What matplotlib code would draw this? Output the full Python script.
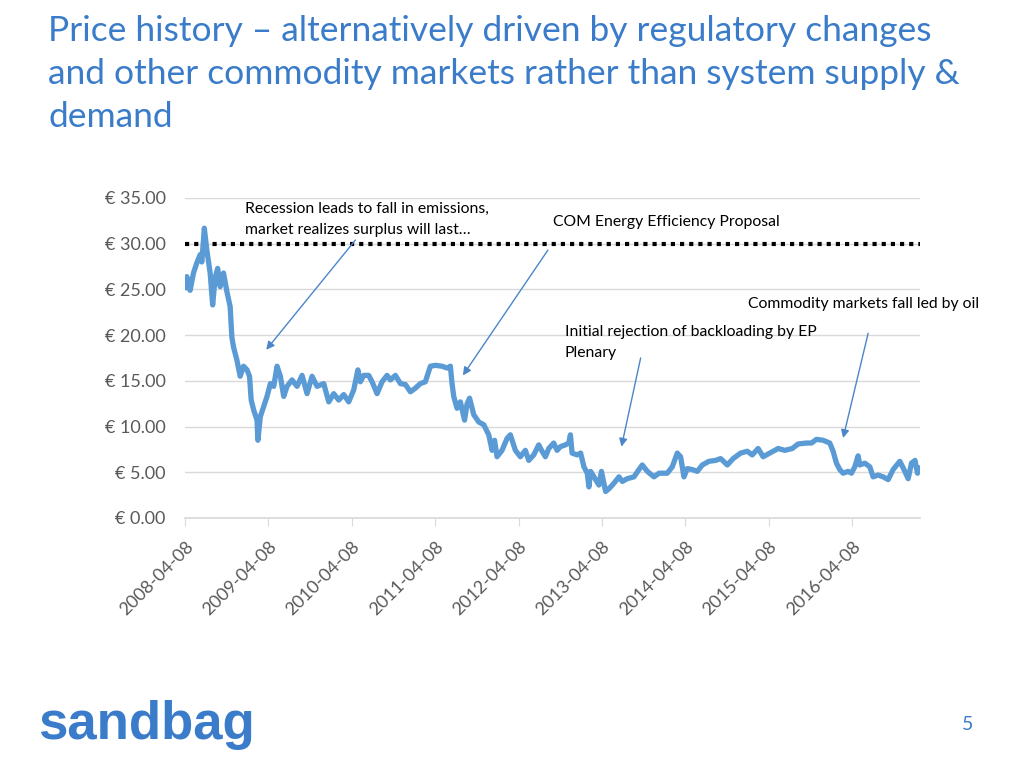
#!/usr/bin/env python3
import pandas as pd
import matplotlib.pyplot as plt

# EUA price (decimal year, euro)
years = [
    2008.27, 2008.29, 2008.33, 2008.37, 2008.41, 2008.45, 2008.47, 2008.50, 2008.53, 2008.57,
    2008.60, 2008.63, 2008.66, 2008.69, 2008.73, 2008.77, 2008.81, 2008.83, 2008.85, 2008.89,
    2008.93, 2008.97, 2009.01, 2009.04, 2009.06, 2009.09, 2009.13, 2009.14, 2009.17, 2009.21,
    2009.25, 2009.29, 2009.33, 2009.37, 2009.41, 2009.45, 2009.49, 2009.55, 2009.61, 2009.67,
    2009.73, 2009.79, 2009.85, 2009.93, 2009.99, 2010.05, 2010.11, 2010.17, 2010.23, 2010.29,
    2010.34, 2010.37, 2010.41, 2010.47, 2010.51, 2010.57, 2010.63, 2010.69, 2010.73, 2010.79,
    2010.85, 2010.91, 2010.97, 2011.03, 2011.09, 2011.15, 2011.21, 2011.27, 2011.35, 2011.41,
    2011.45, 2011.47, 2011.49, 2011.53, 2011.57, 2011.62, 2011.65, 2011.68, 2011.73, 2011.79,
    2011.85, 2011.91, 2011.95, 2011.98, 2012.01, 2012.07, 2012.13, 2012.17, 2012.23, 2012.29,
    2012.35, 2012.39, 2012.45, 2012.51, 2012.55, 2012.59, 2012.63, 2012.69, 2012.73, 2012.77,
    2012.83, 2012.87, 2012.89, 2012.91, 2012.97, 2013.01, 2013.05, 2013.09, 2013.11, 2013.13,
    2013.19, 2013.23, 2013.26, 2013.31, 2013.35, 2013.41, 2013.47, 2013.51, 2013.57, 2013.65,
    2013.71, 2013.75, 2013.81, 2013.89, 2013.95, 2014.05, 2014.11, 2014.17, 2014.21, 2014.25,
    2014.29, 2014.35, 2014.41, 2014.47, 2014.55, 2014.63, 2014.69, 2014.77, 2014.84, 2014.93,
    2015.01, 2015.07, 2015.14, 2015.20, 2015.28, 2015.38, 2015.46, 2015.55, 2015.62, 2015.72,
    2015.78, 2015.84, 2015.92, 2016.00, 2016.04, 2016.08, 2016.12, 2016.16, 2016.22, 2016.26,
    2016.30, 2016.34, 2016.36, 2016.42, 2016.48, 2016.52, 2016.58, 2016.64, 2016.70, 2016.76,
    2016.84, 2016.89, 2016.94, 2016.98, 2017.02, 2017.05, 2017.08,
]
prices = [
    25.2, 26.4, 24.9, 26.8, 27.9, 28.8, 28.0, 31.7, 29.3, 26.8,
    23.3, 26.3, 27.3, 25.3, 26.8, 24.8, 23.1, 19.8, 18.7, 17.3,
    15.5, 16.6, 16.2, 15.5, 12.9, 11.8, 10.7, 8.5, 11.1, 12.2,
    13.3, 14.7, 14.4, 16.6, 15.5, 13.3, 14.4, 15.1, 14.4, 15.6,
    13.6, 15.5, 14.4, 14.7, 12.7, 13.6, 12.9, 13.5, 12.7, 14.0,
    16.2, 14.9, 15.6, 15.6, 14.9, 13.6, 14.9, 15.6, 15.1, 15.6,
    14.7, 14.6, 13.8, 14.2, 14.7, 14.9, 16.6, 16.7, 16.6, 16.4,
    16.6, 14.7, 13.3, 12.0, 12.7, 10.7, 12.5, 13.1, 11.3, 10.5,
    10.2, 9.1, 7.4, 8.5, 6.7, 7.4, 8.7, 9.1, 7.4, 6.7,
    7.4, 6.3, 6.9, 8.0, 7.3, 6.7, 7.6, 8.2, 7.4, 7.8,
    8.0, 8.2, 9.1, 7.1, 6.9, 7.1, 5.6, 4.9, 3.4, 5.1,
    4.2, 3.6, 5.1, 2.9, 3.2, 3.8, 4.5, 4.0, 4.3, 4.5,
    5.3, 5.8, 5.1, 4.5, 4.9, 4.9, 5.6, 7.1, 6.7, 4.5,
    5.4, 5.3, 5.1, 5.8, 6.2, 6.3, 6.5, 5.8, 6.5, 7.1,
    7.3, 6.9, 7.6, 6.7, 7.1, 7.6, 7.4, 7.6, 8.1, 8.2,
    8.2, 8.6, 8.5, 8.2, 7.3, 6.0, 5.3, 4.9, 5.1, 4.9,
    5.6, 6.8, 5.8, 6.0, 5.6, 4.5, 4.7, 4.5, 4.2, 5.3,
    6.2, 5.3, 4.3, 6.0, 6.3, 4.9, 5.4,
]
ref_price = 30.0

yticks = [0, 5, 10, 15, 20, 25, 30, 35]
first_tick = '2008-04-08'
n_xticks = 9

# annotation arrows: tail (decimal year, price) -> head (decimal year, price)
notes = [
    (2010.31, 30.4, 2009.24, 18.4),
    (2012.62, 29.3, 2011.60, 15.6),
    (2013.73, 17.5, 2013.50, 7.8),
    (2016.46, 20.2, 2016.16, 8.75),
]

BLUE = '#3a7cc9'
LINE = '#5b9bd5'
GREY = '#595959'
GRID = '#d9d9d9'

plt.rcParams.update({
    'font.family': ['Lato', 'DejaVu Sans'],
})


def to_date(y):
    base = pd.Timestamp(int(y), 1, 1)
    return base + pd.to_timedelta((y - int(y)) * 365.25, unit='D')


dates = [to_date(y) for y in years]

fig = plt.figure(figsize=(10.24, 7.68), dpi=100)
ax = fig.add_axes([185 / 1024, 1 - 518 / 768, 735 / 1024, 320 / 768])

ax.plot(dates, prices, color=LINE, linewidth=3.8, solid_joinstyle='round', zorder=3)
ax.axhline(ref_price, color='black', linestyle=(0, (1, 1.2)), linewidth=3, zorder=2)

xt = pd.date_range(first_tick, periods=n_xticks, freq=pd.DateOffset(years=1))
ax.set_xticks(xt)
ax.set_xticklabels([d.strftime('%Y-%m-%d') for d in xt], rotation=45, ha='right',
                   va='top', rotation_mode='anchor', fontsize=13, color=GREY)
ax.set_xlim(pd.Timestamp(first_tick), dates[-1])
ax.set_ylim(0, 35)
ax.set_yticks(yticks)
ax.set_yticklabels([f'€ {v:.2f}' for v in yticks], fontsize=13, color=GREY)

ax.grid(True, axis='y', color=GRID, linewidth=1)
ax.set_axisbelow(True)
for s in ['top', 'right', 'left']:
    ax.spines[s].set_visible(False)
ax.spines['bottom'].set_color(GRID)
ax.spines['bottom'].set_linewidth(1.2)
ax.tick_params(axis='y', length=0, pad=14)
ax.tick_params(axis='x', length=6, color=GRID, pad=9)

for tx, ty, hx, hy in notes:
    ax.annotate('', xy=(to_date(hx), hy), xytext=(to_date(tx), ty),
                arrowprops=dict(arrowstyle='-|>', color='#4a86c8', lw=1,
                                mutation_scale=12, shrinkA=0, shrinkB=0),
                annotation_clip=False)


def ftext(x, y, s, **kw):
    fig.text(x / 1024, 1 - y / 768, s, **kw)


ftext(245, 209, 'Recession leads to fall in emissions,', fontsize=11.3, va='center')
ftext(245, 230, 'market realizes surplus will last…', fontsize=11.3, va='center')
ftext(553, 222, 'COM Energy Efficiency Proposal', fontsize=11.3, va='center')
ftext(748, 304, 'Commodity markets fall led by oil', fontsize=11.3, va='center')
ftext(565, 332, 'Initial rejection of backloading by EP', fontsize=11.3, va='center')
ftext(565, 353, 'Plenary', fontsize=11.3, va='center')

ftext(48, 31, 'Price history – alternatively driven by regulatory changes',
      fontsize=25.5, color=BLUE, va='center')
ftext(48, 74, 'and other commodity markets rather than system supply &',
      fontsize=25.5, color=BLUE, va='center')
ftext(48, 117, 'demand', fontsize=25.5, color=BLUE, va='center')

ftext(38, 725, 'sandbag', fontsize=38, fontweight='bold', color=BLUE, va='center',
      family=['Liberation Sans', 'DejaVu Sans'])
ftext(968, 725, '5', fontsize=14, color=BLUE, va='center', ha='center')

fig.savefig('out.png', dpi=100)
